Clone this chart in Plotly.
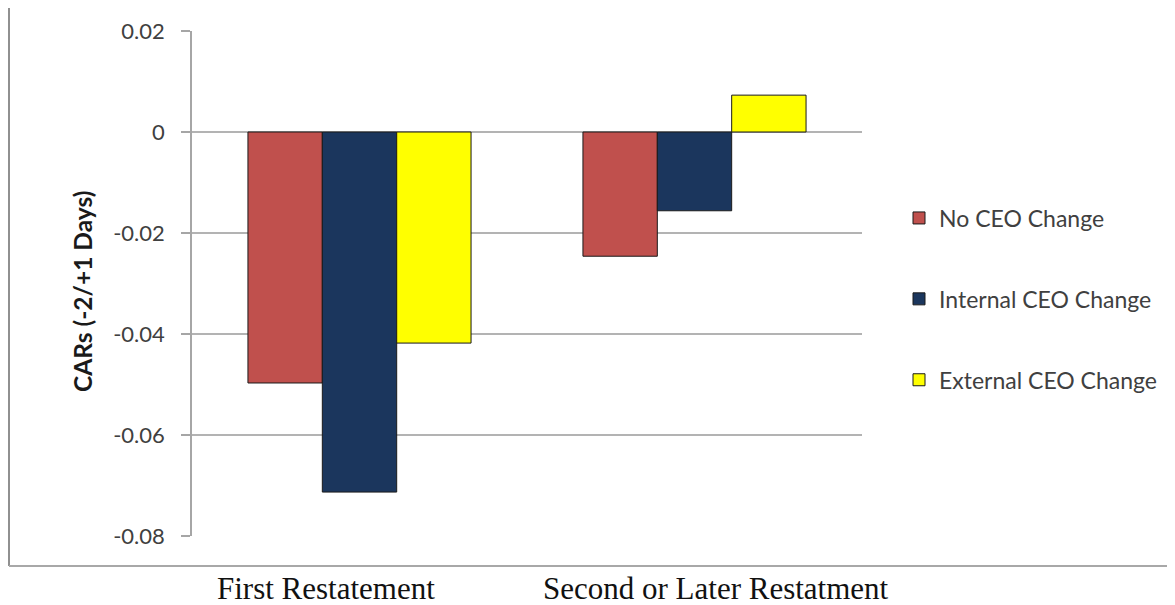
import plotly.graph_objects as go

categories = ["First Restatement", "Second or Later Restatment"]
series_names = ["No CEO Change", "Internal CEO Change", "External CEO Change"]
no_change = [-0.0497, -0.0246]
internal_change = [-0.0713, -0.0156]
external_change = [-0.0418, 0.0073]
tick_vals = [0.02, 0, -0.02, -0.04, -0.06, -0.08]
tick_text = ["0.02", "0", "-0.02", "-0.04", "-0.06", "-0.08"]

colors = ["#C0504D", "#1B365D", "#FFFF00"]
values = [no_change, internal_change, external_change]

fig = go.Figure()
for i, (name, vals, col) in enumerate(zip(series_names, values, colors)):
    fig.add_trace(go.Bar(
        x=categories, y=vals, name=name, legendgroup=f"g{i}",
        marker=dict(color=col, line=dict(color="#1a1a1a", width=1)),
    ))

OFF = 8  # browser body margin
W, H = 1175 - OFF, 605 - OFF
# reference pixel positions (window coords)
PL, PR, PT, PB = 192, 862, 31, 536
L, T = PL - OFF, PT - OFF
R = W - (PR - OFF)
B = H - (PB - OFF)
pw = PR - PL
ph = PB - PT

def px(x):
    return (x - PL) / pw

def py(y):
    return (PB - y) / ph

fig.update_layout(
    width=W, height=H,
    margin=dict(l=L, r=R, t=T, b=B, pad=0, autoexpand=False),
    paper_bgcolor="white", plot_bgcolor="white",
    barmode="group", bargap=0.334, bargroupgap=0,
    font=dict(family="Lato, Open Sans, sans-serif", color="#404040"),
    legend=dict(
        x=px(899), y=py(299), xanchor="left", yanchor="middle",
        font=dict(size=23, family="Lato, sans-serif", color="#404040"),
        tracegroupgap=48, traceorder="grouped",
        bgcolor="rgba(0,0,0,0)",
    ),
    showlegend=True,
)
fig.update_xaxes(showticklabels=False, showline=False, showgrid=False, ticks="", zeroline=False)
fig.update_yaxes(
    range=[-0.08, 0.02], tickvals=tick_vals, ticktext=tick_text,
    showgrid=True, gridcolor="#B3B3B3", gridwidth=1.5,
    zeroline=False, showline=True, linecolor="#A6A6A6", linewidth=1.5,
    ticks="outside", ticklen=9, tickcolor="#A6A6A6", tickwidth=1.5,
    ticklabelstandoff=12,
    tickfont=dict(size=22, family="Lato, sans-serif", color="#404040"),
)

# y-axis title
fig.add_annotation(x=px(82), y=py(292), xref="paper", yref="paper",
                   text="<b>CARs (-2/+1 Days)</b>", textangle=-90, showarrow=False,
                   xanchor="center", yanchor="middle",
                   font=dict(size=24.5, family="Lato, sans-serif", color="#1a1a1a"))

# outer chart border (right side runs off the picture): top, left, bottom edges
x_l, x_r, y_t, y_b = px(9), px(1200), py(5), py(566)
fig.add_shape(type="line", xref="paper", yref="paper", x0=x_l, x1=x_r, y0=y_t, y1=y_t,
              line=dict(color="#888888", width=2.5), layer="below")
fig.add_shape(type="line", xref="paper", yref="paper", x0=x_l, x1=x_l, y0=y_b, y1=y_t,
              line=dict(color="#909090", width=2), layer="below")
fig.add_shape(type="line", xref="paper", yref="paper", x0=x_l, x1=x_r, y0=y_b, y1=y_b,
              line=dict(color="#A8A8A8", width=2), layer="below")

# category labels below the border
label_centers = [326, 716]
for cat, cx in zip(categories, label_centers):
    fig.add_annotation(x=px(cx), y=py(588), xref="paper", yref="paper",
                       text=cat, showarrow=False, xanchor="center", yanchor="middle",
                       font=dict(family="Liberation Serif, Times New Roman, serif", size=31, color="#111111"))

fig.write_html("out.html")
